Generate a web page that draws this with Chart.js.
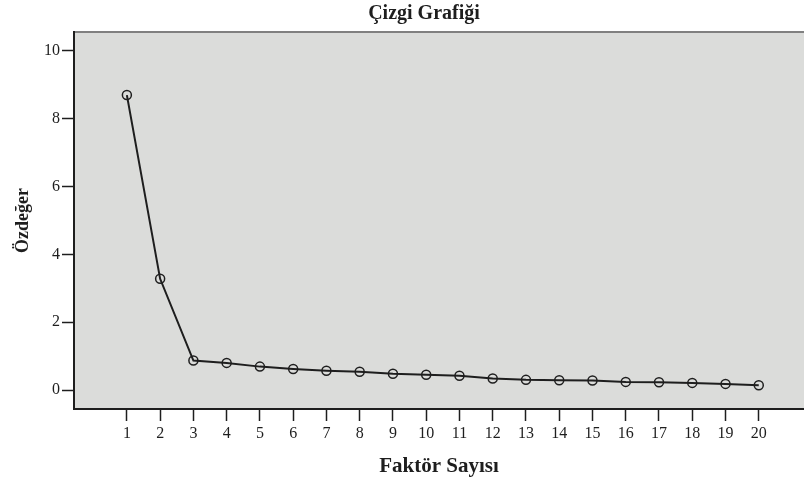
<!DOCTYPE html>
<html>
<head>
<meta charset="utf-8">
<title>Çizgi Grafiği</title>
<script src="https://cdn.jsdelivr.net/npm/chart.js@4"></script>
<style>
  body { margin: 0; background: #fff; }
  #wrap { width: 804px; height: 479px; }
</style>
</head>
<body>
<div id="wrap"><canvas id="screeCanvas" width="804" height="479"></canvas></div>
<script>
// Data
var factors = [1, 2, 3, 4, 5, 6, 7, 8, 9, 10, 11, 12, 13, 14, 15, 16, 17, 18, 19, 20];
var eigenvalues = [8.70, 3.28, 0.87, 0.80, 0.69, 0.62, 0.57, 0.54, 0.48, 0.45, 0.42, 0.34, 0.30, 0.29, 0.28, 0.24, 0.23, 0.21, 0.18, 0.14];
var yTicks = [0, 2, 4, 6, 8, 10];
var chartTitle = 'Çizgi Grafiği';

var serif = "'Liberation Serif', 'DejaVu Serif', serif";
var ink = '#1e1e1e';

// Grey plot background, thin top frame line and the chart title
var plotBackground = {
    id: 'plotBackground',
    beforeDraw: function (chart) {
        var a = chart.chartArea;
        var ctx = chart.ctx;
        ctx.save();
        ctx.fillStyle = '#dbdcda';
        ctx.fillRect(a.left, a.top, a.right - a.left, a.bottom - a.top);
        ctx.strokeStyle = '#808080';
        ctx.lineWidth = 2;
        ctx.beginPath();
        ctx.moveTo(a.left, a.top);
        ctx.lineTo(a.right, a.top);
        ctx.stroke();
        // title sits a bit left of the plot centre, like the original
        ctx.fillStyle = ink;
        ctx.font = 'bold 20px ' + serif;
        ctx.textAlign = 'center';
        ctx.textBaseline = 'middle';
        ctx.fillText(chartTitle, 424, 14);
        ctx.restore();
    }
};

var data = {
    datasets: [{
        label: 'Özdeğer',
        data: factors.map(function (f, i) { return { x: f, y: eigenvalues[i] }; }),
        borderColor: ink,
        borderWidth: 2,
        pointRadius: 4.5,
        pointBorderWidth: 1.5,
        pointBorderColor: ink,
        pointBackgroundColor: 'rgba(0,0,0,0)',
        tension: 0
    }]
};

var config = {
    type: 'line',
    data: data,
    plugins: [plotBackground],
    options: {
        responsive: false,
        animation: false,
        layout: { autoPadding: false, padding: { left: 0, right: 0, top: 32, bottom: 0 } },
        plugins: {
            legend: { display: false },
            tooltip: { enabled: false },
            title: { display: false }
        },
        scales: {
            x: {
                type: 'linear',
                min: -0.59,
                max: 21.36,
                afterBuildTicks: function (scale) {
                    scale.ticks = factors.map(function (v) { return { value: v }; });
                },
                afterFit: function (scale) {
                    scale.height = 70;
                    scale.paddingLeft = 0;
                    scale.paddingRight = 0;
                },
                grid: {
                    drawOnChartArea: false,
                    drawTicks: true,
                    tickLength: 12,
                    tickColor: ink,
                    tickWidth: 1.5
                },
                border: { display: true, color: ink, width: 2 },
                ticks: {
                    color: ink,
                    padding: 3,
                    maxRotation: 0,
                    autoSkip: false,
                    font: { family: serif, size: 16 },
                    callback: function (v) { return String(v); }
                },
                title: {
                    display: true,
                    text: 'Faktör Sayısı',
                    color: ink,
                    font: { family: serif, size: 21, weight: 'bold' },
                    padding: { top: 0, bottom: 0 }
                }
            },
            y: {
                type: 'linear',
                min: -0.56,
                max: 10.56,
                afterBuildTicks: function (scale) {
                    scale.ticks = yTicks.map(function (v) { return { value: v }; });
                },
                afterFit: function (scale) {
                    scale.width = 74;
                    scale.paddingTop = 0;
                    scale.paddingBottom = 0;
                },
                grid: {
                    drawOnChartArea: false,
                    drawTicks: true,
                    tickLength: 12,
                    tickColor: ink,
                    tickWidth: 1.5
                },
                border: { display: true, color: ink, width: 2 },
                ticks: {
                    color: ink,
                    padding: 2,
                    font: { family: serif, size: 16 },
                    callback: function (v) { return String(v); }
                },
                title: {
                    display: true,
                    text: 'Özdeğer',
                    color: ink,
                    font: { family: serif, size: 18, weight: 'bold' },
                    padding: { top: 13, bottom: 0 }
                }
            }
        }
    }
};

var ctx = document.getElementById('screeCanvas').getContext('2d');
new Chart(ctx, config);
</script>
</body>
</html>
